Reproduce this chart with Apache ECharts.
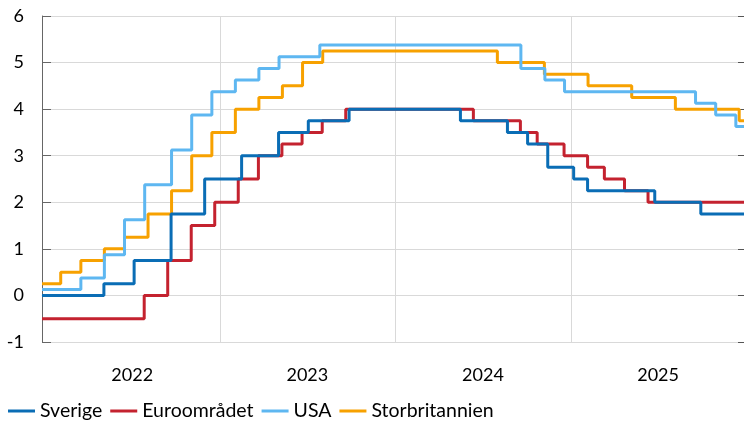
<!DOCTYPE html>
<html>
<head>
<meta charset="utf-8">
<script src="https://cdn.jsdelivr.net/npm/echarts@6/dist/echarts.min.js"></script>
<style>
  html, body { margin: 0; padding: 0; background: #fff; }
  #chart { width: 744px; height: 421px; }
</style>
</head>
<body>
<div id="chart"></div>
<script>
// policy rates, percent; each entry is the date a new rate took effect
const startDate = '2021-12-26'
const endDate = '2025-12-28'

const sverigeDates = ['2021-12-26', '2022-05-04', '2022-07-06', '2022-09-21', '2022-11-30', '2023-02-15', '2023-05-03', '2023-07-04', '2023-09-27', '2024-05-16', '2024-08-22', '2024-10-03', '2024-11-14', '2025-01-07', '2025-02-05', '2025-06-25', '2025-09-29']
const sverigeRates = [0, 0.25, 0.75, 1.75, 2.5, 3.0, 3.5, 3.75, 4.0, 3.75, 3.5, 3.25, 2.75, 2.5, 2.25, 2.0, 1.75]

const euroDates = ['2021-12-26', '2022-07-27', '2022-09-14', '2022-11-02', '2022-12-21', '2023-02-08', '2023-03-22', '2023-05-10', '2023-06-21', '2023-08-02', '2023-09-20', '2024-06-12', '2024-09-18', '2024-10-23', '2024-12-18', '2025-02-05', '2025-03-12', '2025-04-23', '2025-06-11']
const euroRates = [-0.5, 0, 0.75, 1.5, 2.0, 2.5, 3.0, 3.25, 3.5, 3.75, 4.0, 3.75, 3.5, 3.25, 3.0, 2.75, 2.5, 2.25, 2.0]

const usaDates = ['2021-12-26', '2022-03-17', '2022-05-05', '2022-06-16', '2022-07-28', '2022-09-22', '2022-11-03', '2022-12-15', '2023-02-02', '2023-03-23', '2023-05-04', '2023-07-28', '2024-09-19', '2024-11-08', '2024-12-19', '2025-09-18', '2025-10-30', '2025-12-11']
const usaRates = [0.125, 0.375, 0.875, 1.625, 2.375, 3.125, 3.875, 4.375, 4.625, 4.875, 5.125, 5.375, 4.875, 4.625, 4.375, 4.125, 3.875, 3.625]

const ukDates = ['2021-12-26', '2022-02-03', '2022-03-17', '2022-05-05', '2022-06-16', '2022-08-04', '2022-09-22', '2022-11-03', '2022-12-15', '2023-02-02', '2023-03-23', '2023-05-11', '2023-06-22', '2023-08-03', '2024-08-01', '2024-11-07', '2025-02-06', '2025-05-08', '2025-08-07', '2025-12-18']
const ukRates = [0.25, 0.5, 0.75, 1.0, 1.25, 1.75, 2.25, 3.0, 3.5, 4.0, 4.25, 4.5, 5.0, 5.25, 5.0, 4.75, 4.5, 4.25, 4.0, 3.75]

const yearStarts = ['2023-01-01', '2024-01-01', '2025-01-01']
const yearMids = ['2022-07-02', '2023-07-02', '2024-07-02', '2025-07-02']

const font = 'Lato, "Open Sans", sans-serif'
const t = d => Date.parse(d)

function steps(dates, rates) {
  const pts = dates.map((d, i) => [t(d), rates[i]])
  pts.push([t(endDate), rates[rates.length - 1]])
  return pts
}

function line(name, color, z, dates, rates) {
  return {
    name,
    type: 'line',
    step: 'end',
    showSymbol: false,
    z,
    lineStyle: { color, width: 3 },
    itemStyle: { color },
    data: steps(dates, rates)
  }
}

const chart = echarts.init(document.getElementById('chart'))
chart.setOption({
  animation: false,
  grid: { left: 42, right: -3, top: 16, bottom: 79 },
  legend: {
    left: 8,
    top: 401,
    padding: 0,
    icon: 'rect',
    itemWidth: 27,
    itemHeight: 3,
    itemGap: 8,
    data: ['Sverige', 'Euroområdet', 'USA', 'Storbritannien'],
    textStyle: { fontFamily: font, fontSize: 19.5, color: '#000' }
  },
  xAxis: {
    type: 'value',
    min: t(startDate),
    max: t(endDate),
    axisLine: { lineStyle: { color: '#d9d9d9' } },
    axisTick: {
      show: true,
      customValues: yearStarts.map(t),
      length: 7,
      lineStyle: { color: '#d9d9d9' }
    },
    splitLine: { show: true, lineStyle: { color: '#d9d9d9', width: 1 } },
    axisLabel: {
      customValues: yearMids.map(t),
      formatter: v => String(new Date(v).getUTCFullYear()),
      margin: 24,
      fontFamily: font,
      fontSize: 18,
      color: '#000'
    }
  },
  yAxis: [
    {
      type: 'value',
      min: -1,
      max: 6,
      interval: 1,
      axisLine: { show: true, lineStyle: { color: '#666' } },
      axisTick: { show: true, inside: true, length: 9, lineStyle: { color: '#666' } },
      splitLine: { lineStyle: { color: '#d9d9d9' } },
      axisLabel: { margin: 18, fontFamily: font, fontSize: 18, color: '#000' }
    },
    {
      type: 'value',
      position: 'right',
      min: -1,
      max: 6,
      interval: 1,
      axisLine: { show: false },
      axisTick: { show: true, inside: true, length: 6, lineStyle: { color: '#555' } },
      splitLine: { show: false },
      axisLabel: { show: false }
    }
  ],
  series: [
    line('Euroområdet', '#c4222f', 2, euroDates, euroRates),
    line('Storbritannien', '#f7a100', 3, ukDates, ukRates),
    line('USA', '#5eb7f1', 4, usaDates, usaRates),
    line('Sverige', '#0a6db5', 5, sverigeDates, sverigeRates)
  ]
})
</script>
</body>
</html>
